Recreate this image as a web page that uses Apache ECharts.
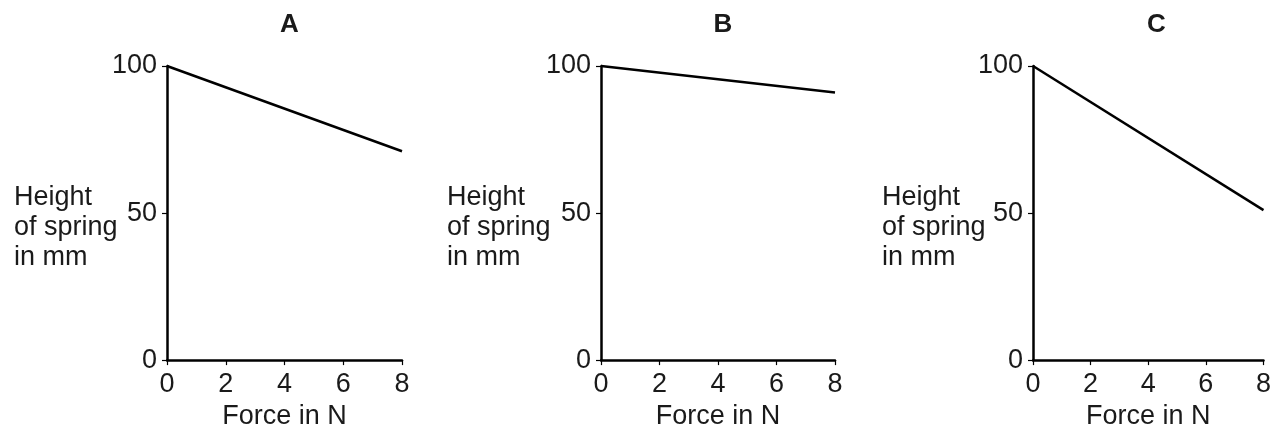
<!DOCTYPE html>
<html>
<head>
<meta charset="utf-8">
<script src="https://cdn.jsdelivr.net/npm/echarts@6/dist/echarts.min.js"></script>
<style>
html,body{margin:0;padding:0;background:#fff;}
#chart{width:1274px;height:435px;}
</style>
</head>
<body>
<div id="chart"></div>
<script>
const panelTitles = ['A', 'B', 'C'];
const forceN = [0, 8];
const heightA = [100, 71];
const heightB = [100, 91];
const heightC = [100, 51];
const xTicks = [0, 2, 4, 6, 8];
const yTicks = [0, 50, 100];
const xAxisName = 'Force in N';
const yAxisName = 'Height\nof spring\nin mm';

const seriesValues = [heightA, heightB, heightC];
const grids = [
  {left: 167, top: 66, width: 235, height: 295},
  {left: 601, top: 66, width: 234, height: 295},
  {left: 1033, top: 66, width: 237, height: 295}
];
const nameX = [14, 447, 882];
const font = 'Liberation Sans, Arial, sans-serif';
const ink = '#1a1a1a';

const chart = echarts.init(document.getElementById('chart'), null, {renderer: 'canvas'});
const option = {
  backgroundColor: '#fff',
  animation: false,
  title: panelTitles.map((t, i) => ({
    text: t,
    left: grids[i].left + grids[i].width / 2,
    top: 7,
    textAlign: 'center',
    textStyle: {fontFamily: font, fontSize: 26, fontWeight: 'bold', color: ink}
  })),
  grid: grids.map(g => Object.assign({containLabel: false}, g)),
  xAxis: grids.map((g, i) => ({
    type: 'value', gridIndex: i, min: xTicks[0], max: xTicks[xTicks.length - 1], interval: 2,
    name: xAxisName, nameLocation: 'middle', nameGap: 42,
    nameTextStyle: {fontFamily: font, fontSize: 27, color: ink},
    axisLine: {show: true, onZero: false, lineStyle: {color: '#000', width: 2.5}},
    axisTick: {show: true, length: 5, lineStyle: {color: '#000', width: 1.2}},
    axisLabel: {margin: 11, fontFamily: font, fontSize: 27, color: ink, showMaxLabel: true, showMinLabel: true},
    splitLine: {show: false}
  })),
  yAxis: grids.map((g, i) => ({
    type: 'value', gridIndex: i, min: yTicks[0], max: yTicks[yTicks.length - 1], interval: 50,
    axisLine: {show: true, onZero: false, lineStyle: {color: '#000', width: 2.5}},
    axisTick: {show: true, length: 5, lineStyle: {color: '#000', width: 1.2}},
    axisLabel: {margin: 10, fontFamily: font, fontSize: 27, color: ink},
    splitLine: {show: false}
  })),
  graphic: nameX.map((x, i) => ({
    type: 'text', left: x, top: 183,
    style: {text: yAxisName, font: '27px ' + font, lineHeight: 30, fill: ink, align: 'left'}
  })),
  series: seriesValues.map((vals, i) => ({
    type: 'line', xAxisIndex: i, yAxisIndex: i,
    data: forceN.map((f, j) => [f, vals[j]]),
    symbol: 'none', clip: false,
    lineStyle: {color: '#000', width: 2.5}
  }))
};
chart.setOption(option);
</script>
</body>
</html>
